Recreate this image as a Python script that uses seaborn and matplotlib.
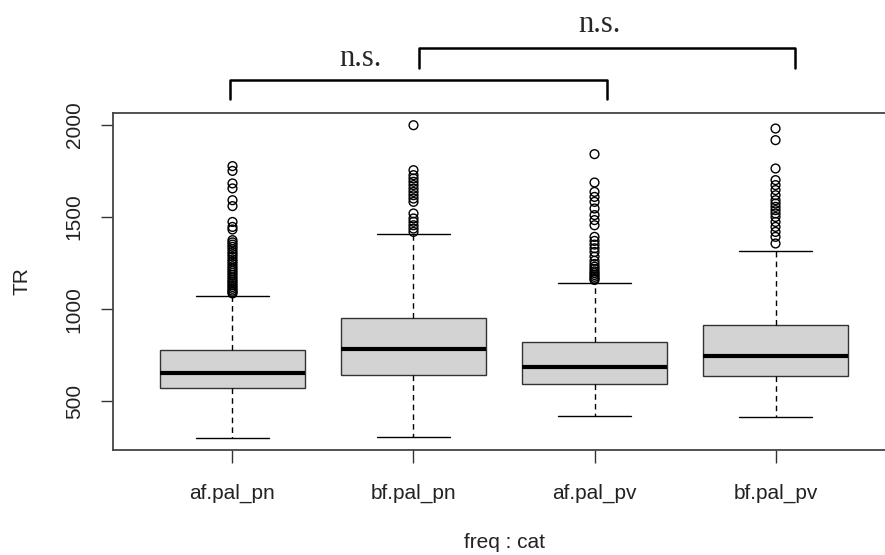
import numpy as np
import pandas as pd
import matplotlib
matplotlib.use("Agg")
import matplotlib.pyplot as plt
import seaborn as sns

# groups along the x axis
groups = ["af.pal_pn", "bf.pal_pn", "af.pal_pv", "bf.pal_pv"]

# box statistics
whis_lo = [303, 306, 420, 415]
q1 = [574, 641, 596, 637]
median = [654, 786, 683, 744]
q3 = [777, 949, 819, 913]
whis_hi = [1071, 1407, 1144, 1316]

# outliers per group
fliers_af_pn = [1776, 1750, 1682, 1655, 1591, 1559, 1473, 1446, 1432,
                1374, 1362, 1350, 1338, 1325, 1310, 1298, 1285, 1270, 1258,
                1245, 1232, 1220, 1208, 1196, 1185, 1172, 1160, 1150, 1140,
                1130, 1120, 1110, 1100, 1092, 1085]
fliers_bf_pn = [1998, 1754, 1727, 1709, 1691, 1673, 1654, 1636, 1618, 1600,
                1582, 1519, 1492, 1474, 1455, 1437, 1419]
fliers_af_pv = [1841, 1687, 1636, 1609, 1582, 1546, 1510, 1483, 1455,
                1392, 1370, 1350, 1330, 1310, 1285, 1262, 1245, 1230, 1218,
                1205, 1195, 1185, 1175, 1165, 1158]
fliers_bf_pv = [1980, 1917, 1763, 1700, 1673, 1646, 1618, 1591, 1573, 1555,
                1537, 1519, 1500, 1473, 1446, 1419, 1392, 1356]
fliers = [fliers_af_pn, fliers_bf_pn, fliers_af_pv, fliers_bf_pv]

# significance brackets
bracket_x = [(0.985, 3.07), (2.03, 4.11)]
bracket_y = [(2140, 2243), (2309, 2415)]
sig_labels = ["n.s.", "n.s."]
sig_label_pos = [(1.706, 2362), (3.025, 2547)]

sns.set_style("white")
plt.rcParams["font.family"] = ["Liberation Sans", "DejaVu Sans"]

fig = plt.figure(figsize=(8.85, 5.55), dpi=100)
ax = fig.add_axes([0.1277, 0.1892, 0.8836, 0.6077])

positions = np.arange(1, len(groups) + 1)
stats = []
for i, g in enumerate(groups):
    stats.append(dict(label=g, whislo=whis_lo[i], q1=q1[i], med=median[i],
                      q3=q3[i], whishi=whis_hi[i], fliers=[]))

ax.bxp(stats, positions=positions, widths=0.8, capwidths=0.4,
       showfliers=False, patch_artist=True,
       boxprops=dict(facecolor="#D3D3D3", edgecolor="#333333", linewidth=1.0),
       medianprops=dict(color="black", linewidth=3.0, solid_capstyle="butt"),
       whiskerprops=dict(color="black", linewidth=1.0, linestyle=(0, (4, 3))),
       capprops=dict(color="black", linewidth=1.0))

flier_df = pd.DataFrame({
    "pos": np.concatenate([[p] * len(f) for p, f in zip(positions, fliers)]),
    "TR": np.concatenate(fliers),
})
sns.scatterplot(data=flier_df, x="pos", y="TR", ax=ax, marker="o", s=40,
                facecolor="none", edgecolor="black", linewidth=1.0,
                legend=False, zorder=3)

all_vals = np.concatenate([whis_lo, np.concatenate(fliers)])
lo, hi = all_vals.min(), all_vals.max()
ax.set_ylim(lo - 0.04 * (hi - lo), hi + 0.04 * (hi - lo))
ax.set_xlim(0.34, 4.66)

ax.set_xticks(positions)
ax.set_xticklabels(groups, fontsize=15)
ax.set_yticks([500, 1000, 1500, 2000])
ax.set_yticklabels(["500", "1000", "1500", "2000"], fontsize=15,
                   rotation=90, va="center")
ax.tick_params(axis="both", direction="out", length=9, width=1.0,
               color="#333333", labelcolor="#222222", left=True, bottom=True)
ax.tick_params(axis="x", pad=15.5)
ax.tick_params(axis="y", pad=12)

for sp in ax.spines.values():
    sp.set_visible(True)
    sp.set_color("#444444")
    sp.set_linewidth(1.3)

ax.set_xlabel("freq : cat", fontsize=15, color="#222222")
ax.set_ylabel("TR", fontsize=15, color="#222222")
ax.xaxis.set_label_coords(0.5, -0.2757)
ax.xaxis.label.set_va("center")
ax.yaxis.set_label_coords(-0.1164, 0.5)
ax.yaxis.label.set_va("center")

for (x0, x1), (y0, y1), txt, (tx, ty) in zip(bracket_x, bracket_y,
                                             sig_labels, sig_label_pos):
    ax.plot([x0, x0, x1, x1], [y0, y1, y1, y0], color="black", linewidth=1.8,
            clip_on=False, solid_joinstyle="round")
    ax.text(tx, ty, txt, fontsize=22, family=["Liberation Serif", "DejaVu Serif"],
            ha="center", va="center", clip_on=False)

fig.savefig("out.png", dpi=100)
plt.close(fig)
